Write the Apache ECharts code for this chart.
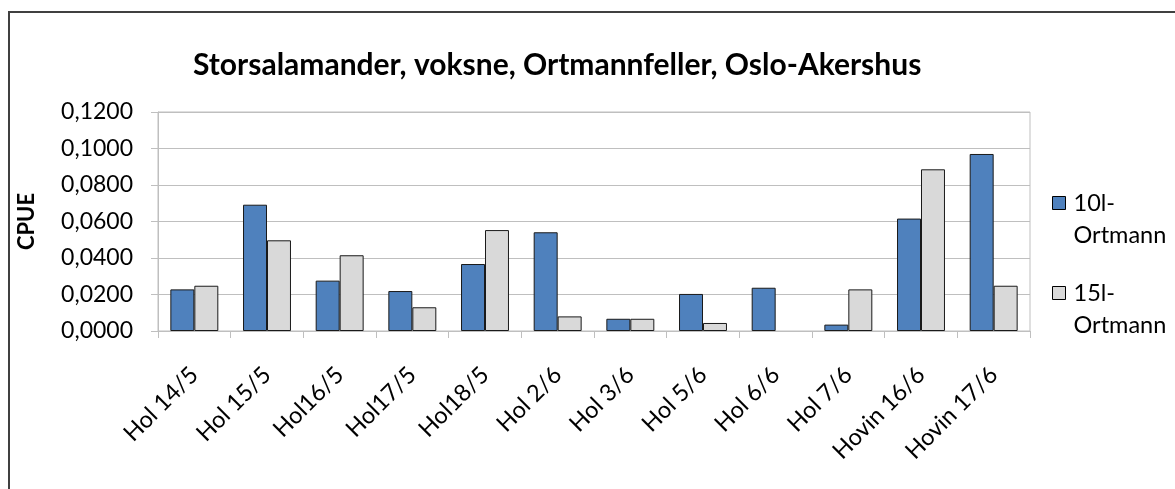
<!DOCTYPE html>
<html>
<head>
<meta charset="utf-8">
<script src="https://cdn.jsdelivr.net/npm/echarts@6/dist/echarts.min.js"></script>
<style>
  html, body { margin: 0; padding: 0; background: #fff; }
  #chart { width: 1175px; height: 489px; }
</style>
</head>
<body>
<div id="chart"></div>
<script>
  // kategorier og verdier lest av bildet
  var categories = ['Hol 14/5', 'Hol 15/5', 'Hol16/5', 'Hol17/5', 'Hol18/5', 'Hol 2/6',
    'Hol 3/6', 'Hol 5/6', 'Hol 6/6', 'Hol 7/6', 'Hovin 16/6', 'Hovin 17/6']
  var ortmann10 = [0.0228, 0.0692, 0.0276, 0.0219, 0.0367, 0.0541,
    0.0067, 0.0203, 0.0237, 0.0035, 0.0616, 0.0970]
  var ortmann15 = [0.0248, 0.0497, 0.0415, 0.0130, 0.0553, 0.0080,
    0.0067, 0.0044, 0, 0.0228, 0.0886, 0.0248]
  var seriesNames = ['10l-\nOrtmann', '15l-\nOrtmann']
  var yTicks = { min: 0, max: 0.12, interval: 0.02 }

  var font = 'Lato, "Open Sans", sans-serif'
  var chart = echarts.init(document.getElementById('chart'))

  // 0 tegnes ikke (ingen strek i Excel)
  function noZero (arr) {
    return arr.map(function (v) { return v === 0 ? '-' : v })
  }

  var legendText = {
    fontFamily: font,
    fontSize: 23.5,
    color: '#000',
    lineHeight: 32,
    padding: [0, 0, 0, 3]
  }
  // tom forste linje, slik at "10l-" staar ved ikonet
  function legendLabel (name) { return '\n' + name }

  chart.setOption({
    animation: false,
    title: {
      text: 'Storsalamander, voksne, Ortmannfeller, Oslo-Akershus',
      left: 193,
      top: 50,
      padding: 0,
      textStyle: { fontFamily: font, fontSize: 30, fontWeight: 'bold', color: '#000' }
    },
    graphic: [{
      type: 'rect',
      shape: { x: 9, y: 12, width: 1200, height: 500 },
      style: { fill: 'none', stroke: '#404040', lineWidth: 2 },
      silent: true
    }],
    legend: [
      {
        data: [seriesNames[0]],
        left: 1047,
        top: 150,
        icon: 'rect',
        itemWidth: 13,
        itemHeight: 13,
        itemStyle: { borderColor: '#000', borderWidth: 1 },
        formatter: legendLabel,
        textStyle: legendText
      },
      {
        data: [seriesNames[1]],
        left: 1047,
        top: 240,
        icon: 'rect',
        itemWidth: 13,
        itemHeight: 13,
        itemStyle: { borderColor: '#000', borderWidth: 1 },
        formatter: legendLabel,
        textStyle: legendText
      }
    ],
    grid: {
      left: 158,
      right: 145,
      top: 112,
      bottom: 158,
      show: true,
      borderColor: '#bfbfbf',
      borderWidth: 1
    },
    xAxis: {
      type: 'category',
      data: categories,
      axisLine: { lineStyle: { color: '#bfbfbf' } },
      axisTick: { show: true, length: 7, lineStyle: { color: '#bfbfbf' } },
      axisLabel: {
        interval: 0,
        rotate: 45,
        margin: 40,
        fontFamily: font,
        fontSize: 23.5,
        color: '#000'
      }
    },
    yAxis: {
      type: 'value',
      min: yTicks.min,
      max: yTicks.max,
      interval: yTicks.interval,
      name: 'CPUE',
      nameLocation: 'middle',
      nameGap: 120,
      nameTextStyle: { fontFamily: font, fontSize: 22, fontWeight: 'bold', color: '#000' },
      axisLine: { show: true, lineStyle: { color: '#bfbfbf' } },
      axisTick: { show: true, length: 7, lineStyle: { color: '#bfbfbf' } },
      splitLine: { lineStyle: { color: '#bfbfbf' } },
      axisLabel: {
        margin: 25,
        fontFamily: font,
        fontSize: 23,
        color: '#000',
        formatter: function (v) { return v.toFixed(4).replace('.', ',') }
      }
    },
    series: [
      {
        name: seriesNames[0],
        type: 'bar',
        data: noZero(ortmann10),
        barGap: '0%',
        barCategoryGap: '34%',
        itemStyle: { color: '#4f81bd', borderColor: '#1a1a1a', borderWidth: 1 }
      },
      {
        name: seriesNames[1],
        type: 'bar',
        data: noZero(ortmann15),
        itemStyle: { color: '#d9d9d9', borderColor: '#1a1a1a', borderWidth: 1 }
      }
    ]
  })
</script>
</body>
</html>
